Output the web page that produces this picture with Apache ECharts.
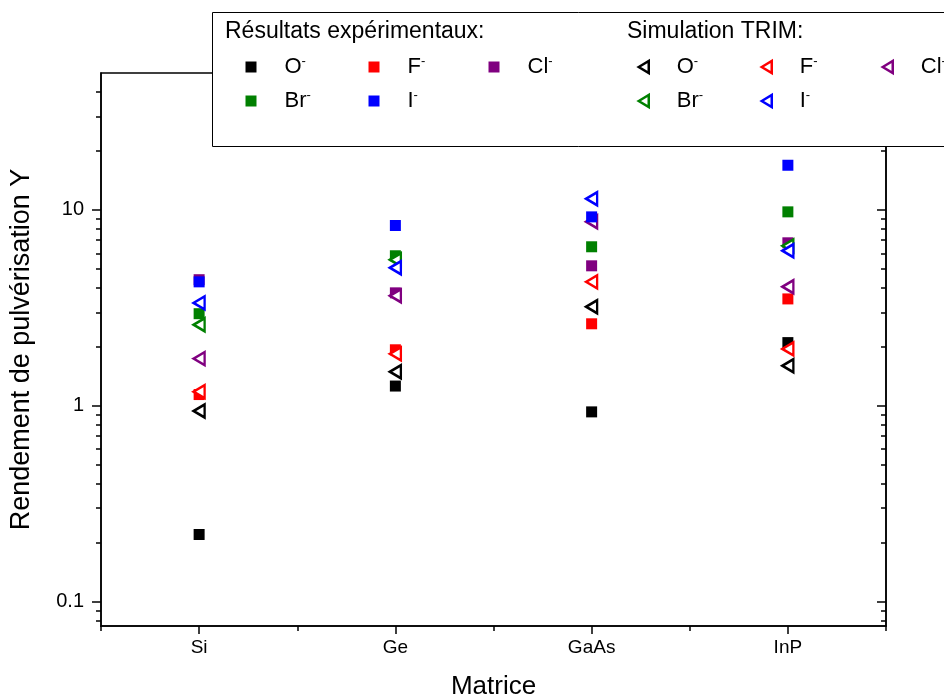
<!DOCTYPE html>
<html>
<head>
<meta charset="utf-8">
<script src="https://cdn.jsdelivr.net/npm/echarts@6/dist/echarts.min.js"></script>
<style>
html,body{margin:0;padding:0;background:#fff;}
#chart{width:944px;height:697px;}
</style>
</head>
<body>
<div id="chart"></div>
<script>
// ---- data ----
const categories = ['Si', 'Ge', 'GaAs', 'InP'];
const ions = ['O', 'F', 'Cl', 'Br', 'I'];
const ionColors = ['#000000', '#ff0000', '#800080', '#008000', '#0000ff'];
// experimental results (squares)
const expO  = [0.22, 1.26, 0.93, 2.10];
const expF  = [1.14, 1.93, 2.62, 3.51];
const expCl = [4.40, 3.77, 5.18, 6.79];
const expBr = [2.95, 5.83, 6.48, 9.77];
const expI  = [4.29, 8.32, 9.21, 16.9];
// TRIM simulation (open triangles)
const simO  = [0.94, 1.49, 3.20, 1.60];
const simF  = [1.18, 1.84, 4.29, 1.95];
const simCl = [1.74, 3.64, 8.69, 4.05];
const simBr = [2.59, 5.56, null, 6.55];
const simI  = [3.35, 5.06, 11.4, 6.18];
// axis ticks
const yMajorTicks = [0.1, 1, 10];
const yMinorTicks = [0.08, 0.09, 0.2, 0.3, 0.4, 0.5, 0.6, 0.7, 0.8, 0.9, 2, 3, 4, 5, 6, 7, 8, 9, 20, 30, 40];
const yMin = 0.075, yMax = 50;
const legendTitleExp = 'Résultats expérimentaux:';
const legendTitleSim = 'Simulation TRIM:';
const xName = 'Matrice';
const yName = 'Rendement de pulvérisation Y';

const expData = [expO, expF, expCl, expBr, expI];
const simData = [simO, simF, simCl, simBr, simI];

const FONT = '"Liberation Sans", Arial, sans-serif';
const LEFT_TRI = 'path://M0,6L10,0L10,12Z';

const series = [];
ions.forEach((ion, i) => {
  series.push({
    name: 'exp-' + ion,
    type: 'scatter',
    xAxisIndex: 0, yAxisIndex: 0,
    symbol: 'rect',
    symbolSize: 11,
    itemStyle: { color: ionColors[i], opacity: 1 },
    data: expData[i],
    z: 2 + i * 0.1
  });
  series.push({
    name: 'sim-' + ion,
    type: 'scatter',
    xAxisIndex: 0, yAxisIndex: 0,
    symbol: 'triangle',
    symbolRotate: 90,
    symbolSize: [13, 11],
    itemStyle: { color: '#ffffff', borderColor: ionColors[i], borderWidth: 2.5, opacity: 1 },
    data: simData[i],
    z: 2 + i * 0.1 + 0.05
  });
});

function legendFmt(name) {
  const ion = name.split('-')[1];
  return '{m|' + ion + '}{s|-}';
}
const legendText = {
  fontFamily: FONT,
  color: '#000',
  padding: [0, 0, 0, 23],
  rich: {
    m: { fontSize: 22, fontFamily: FONT, color: '#000', lineHeight: 24 },
    s: { fontSize: 13, fontFamily: FONT, color: '#000', verticalAlign: 'top', lineHeight: 14 }
  }
};
// legend slots: [group, ion index, icon centre x, row centre y]
const legendSlots = [
  ['exp', 0, 251, 67], ['exp', 1, 374, 67], ['exp', 2, 494, 67],
  ['exp', 3, 251, 101], ['exp', 4, 374, 101],
  ['sim', 0, 643, 67], ['sim', 1, 766, 67], ['sim', 2, 887, 67],
  ['sim', 3, 643, 101], ['sim', 4, 766, 101]
];
const legends = legendSlots.map(([g, i, cx, cy]) => {
  const isSim = g === 'sim';
  const style = isSim
    ? { color: '#fff', borderColor: ionColors[i], borderWidth: 2.5 }
    : { color: ionColors[i], borderWidth: 0 };
  return {
    orient: 'horizontal',
    left: cx - 5.5, top: cy - 12,
    padding: 0,
    itemGap: 0,
    itemWidth: isSim ? 10 : 11,
    itemHeight: isSim ? 12 : 11,
    selectedMode: false,
    itemStyle: style,
    data: [{ name: g + '-' + ions[i], icon: isSim ? LEFT_TRI : 'rect', itemStyle: style }],
    formatter: legendFmt,
    textStyle: legendText,
    z: 10
  };
});

const chart = echarts.init(document.getElementById('chart'), null, { renderer: 'canvas' });
const axisLineStyle = { color: '#000', width: 1.5 };

chart.setOption({
  animation: false,
  backgroundColor: '#fff',
  grid: {
    left: 101, right: 58, top: 73, bottom: 71,
    show: true, borderColor: '#000', borderWidth: 1.5,
    containLabel: false,
    outerBoundsMode: 'none'
  },
  legend: legends,
  graphic: [
    {
      type: 'rect', z: 5,
      shape: { x: 212.5, y: 12.5, width: 760, height: 134 },
      style: { fill: '#fff', stroke: '#000', lineWidth: 1 }
    },
    {
      type: 'text', z: 6, left: 225, top: 20,
      style: { text: legendTitleExp, font: '23px ' + FONT, fill: '#000' }
    },
    {
      type: 'text', z: 6, left: 627, top: 20,
      style: { text: legendTitleSim, font: '23px ' + FONT, fill: '#000' }
    }
  ],
  xAxis: [
    {
      type: 'category', data: categories, position: 'bottom',
      boundaryGap: true,
      axisLine: { show: true, lineStyle: axisLineStyle },
      axisTick: { show: true, alignWithLabel: true, length: 8, lineStyle: axisLineStyle },
      axisLabel: { fontSize: 19, fontFamily: FONT, color: '#000', margin: 12 },
      splitLine: { show: false },
      name: xName, nameLocation: 'middle', nameGap: 48,
      nameTextStyle: { fontSize: 26, fontFamily: FONT, color: '#000' }
    },
    {
      type: 'category', data: categories, position: 'bottom', offset: 0,
      boundaryGap: true,
      axisLine: { show: false },
      axisTick: { show: true, length: 5, lineStyle: axisLineStyle },
      axisLabel: { show: false },
      splitLine: { show: false }
    }
  ],
  yAxis: [
    {
      type: 'log', logBase: 10, min: yMin, max: yMax, position: 'left',
      axisLine: { show: true, lineStyle: axisLineStyle },
      axisTick: { show: true, length: 9, lineStyle: axisLineStyle, customValues: yMajorTicks },
      axisLabel: { fontSize: 20, fontFamily: FONT, color: '#000', margin: 17, customValues: yMajorTicks,
        formatter: v => String(v) },
      splitLine: { show: false },
      name: yName, nameLocation: 'middle', nameGap: 66, nameRotate: 90,
      nameTextStyle: { fontSize: 27, fontFamily: FONT, color: '#000' }
    },
    {
      type: 'log', logBase: 10, min: yMin, max: yMax, position: 'left', offset: 0,
      axisLine: { show: false },
      axisTick: { show: true, length: 5, lineStyle: axisLineStyle, customValues: yMinorTicks },
      axisLabel: { show: false },
      splitLine: { show: false }
    },
    {
      type: 'log', logBase: 10, min: yMin, max: yMax, position: 'right', offset: 0,
      axisLine: { show: true, lineStyle: axisLineStyle },
      axisTick: { show: true, inside: true, length: 9, lineStyle: axisLineStyle, customValues: yMajorTicks },
      axisLabel: { show: false },
      splitLine: { show: false }
    },
    {
      type: 'log', logBase: 10, min: yMin, max: yMax, position: 'right', offset: 0,
      axisLine: { show: false },
      axisTick: { show: true, inside: true, length: 5, lineStyle: axisLineStyle, customValues: yMinorTicks },
      axisLabel: { show: false },
      splitLine: { show: false }
    }
  ],
  series: series
});
</script>
</body>
</html>
